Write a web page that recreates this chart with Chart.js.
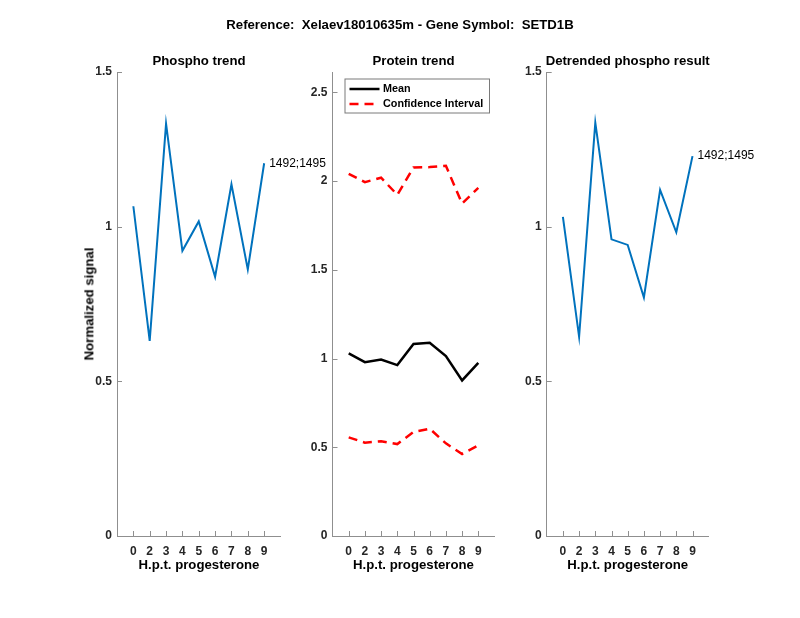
<!DOCTYPE html>
<html><head><meta charset="utf-8">
<script src="https://cdn.jsdelivr.net/npm/chart.js@4.4.0/dist/chart.umd.min.js"></script>
<style>
body{margin:0;background:#fff;}
#wrap{position:relative;width:800px;height:618px;overflow:hidden;font-family:"Liberation Sans",Arial,sans-serif;background:#fff;}
canvas{position:absolute;left:0;top:0;}
.t{position:absolute;white-space:pre;font-weight:bold;color:#000;transform:translate(-50%,-50%);line-height:1;font-size:13.2px;}
.r{transform:translate(-50%,-50%) rotate(-90deg);}
</style></head><body>
<div id="wrap">
<canvas id="c1" width="800" height="618"></canvas>
<canvas id="c2" width="800" height="618"></canvas>
<canvas id="c3" width="800" height="618"></canvas>
<div class="t" style="left:400px;top:25px;">Reference:  Xelaev18010635m - Gene Symbol:  SETD1B</div>
<div class="t" style="left:199px;top:60.5px;">Phospho trend</div>
<div class="t" style="left:413.5px;top:60.5px;">Protein trend</div>
<div class="t" style="left:627.7px;top:60.5px;">Detrended phospho result</div>
<div class="t" style="left:199px;top:565px;">H.p.t. progesterone</div>
<div class="t" style="left:413.5px;top:565px;">H.p.t. progesterone</div>
<div class="t" style="left:627.7px;top:565px;">H.p.t. progesterone</div>
<div class="t r" style="left:88.5px;top:304px;">Normalized signal</div>
</div>
<script>
// ---- data ----
const hptLabels = ['0','2','3','4','5','6','7','8','9'];
const phosphoTrend = [1.066,0.631,1.333,0.922,1.017,0.838,1.137,0.862,1.205];
const proteinMean = [1.029,0.980,0.995,0.963,1.082,1.089,1.014,0.877,0.976];
const proteinCIUpper = [2.041,1.994,2.019,1.923,2.077,2.079,2.086,1.874,1.962];
const proteinCILower = [0.556,0.526,0.534,0.518,0.586,0.605,0.522,0.462,0.511];
const detrendedPhospho = [1.032,0.644,1.336,0.959,0.941,0.771,1.119,0.982,1.228];
const phosphoTicks = [0,0.5,1,1.5];
const proteinTicks = [0,0.5,1,1.5,2,2.5];
const siteLabel = '1492;1495';

Chart.defaults.font.family = '"Liberation Sans", Arial, sans-serif';
Chart.defaults.animation = false;

const AXIS = '#8f8f8f', TXT = '#262626';
const YW = 40, XH = 30;
const toXY = arr => arr.map((v,i)=>({x:i+1,y:v}));

const inwardTicks = {
  id:'inwardTicks',
  afterDraw(chart){
    const ctx=chart.ctx, xs=chart.scales.x, ys=chart.scales.y, len=5;
    const a=chart.chartArea;
    ctx.save(); ctx.strokeStyle=AXIS; ctx.lineWidth=1; ctx.beginPath();
    xs.ticks.forEach(t=>{const p=Math.round(xs.getPixelForValue(t.value))+0.5; ctx.moveTo(p,a.bottom); ctx.lineTo(p,a.bottom-len);});
    ys.ticks.forEach(t=>{ if(t.value===ys.min) return; const p=Math.round(ys.getPixelForValue(t.value))+0.5; ctx.moveTo(a.left,p); ctx.lineTo(a.left+len,p);});
    ctx.stroke(); ctx.restore();
  }
};
const pointLabel = {
  id:'pointLabel',
  afterDatasetsDraw(chart, args, opts){
    if(!opts || !opts.text) return;
    const meta=chart.getDatasetMeta(0); const el=meta.data[meta.data.length-1];
    const ctx=chart.ctx; ctx.save(); ctx.fillStyle='#000'; ctx.font='12px "Liberation Sans", Arial, sans-serif';
    ctx.textBaseline='middle'; ctx.textAlign='left'; ctx.fillText(opts.text, el.x+5, el.y); ctx.restore();
  }
};
const boxLegend = {
  id:'boxLegend',
  afterDraw(chart, args, opts){
    if(!opts || !opts.box) return;
    const b=opts.box, ctx=chart.ctx;
    ctx.save(); ctx.fillStyle='#fff'; ctx.fillRect(b.x,b.y,b.w,b.h);
    ctx.strokeStyle='#7a7a7a'; ctx.lineWidth=1; ctx.strokeRect(b.x+0.5,b.y+0.5,b.w,b.h);
    const items=chart.data.datasets.filter(d=>d.inLegend);
    ctx.font='bold 10.8px "Liberation Sans", Arial, sans-serif'; ctx.textBaseline='middle'; ctx.fillStyle='#000';
    items.forEach((d,i)=>{
      const yy=b.y+b.rowTop+i*b.rowH;
      ctx.beginPath(); ctx.setLineDash(d.borderDash||[]); ctx.strokeStyle=d.borderColor; ctx.lineWidth=d.borderWidth;
      ctx.moveTo(b.x+b.lineX0,yy); ctx.lineTo(b.x+b.lineX1,yy); ctx.stroke();
      ctx.setLineDash([]); ctx.fillText(d.label,b.x+b.textX,yy);
    });
    ctx.restore();
  }
};

function makeChart(id, area, datasets, yMax, yTicks, extra){
  return new Chart(document.getElementById(id), {
    type:'line',
    data:{datasets},
    plugins:[inwardTicks, pointLabel, boxLegend],
    options:{
      responsive:false, events:[],
      layout:{padding:{left:area.l-YW, right:800-area.r, top:area.t, bottom:618-area.b-XH}},
      elements:{point:{radius:0}, line:{tension:0}},
      plugins:{legend:{display:false}, tooltip:{enabled:false}, title:{display:false},
        pointLabel:extra.pointLabel||{}, boxLegend:extra.boxLegend||{}},
      scales:{
        x:{type:'linear', min:0, max:10,
          afterBuildTicks:s=>{s.ticks=hptLabels.map((_,i)=>({value:i+1}));},
          afterFit:s=>{s.height=XH;},
          grid:{display:true, drawOnChartArea:false, drawTicks:false},
          border:{display:true,color:AXIS,width:1},
          ticks:{autoSkip:false, maxRotation:0, minRotation:0, padding:8, color:TXT, font:{size:12, weight:'bold'},
            callback:v=>hptLabels[v-1]}},
        y:{type:'linear', min:0, max:yMax,
          afterBuildTicks:s=>{s.ticks=yTicks.map(v=>({value:v}));},
          afterFit:s=>{s.width=YW;},
          grid:{display:true, drawOnChartArea:false, drawTicks:false},
          border:{display:true,color:AXIS,width:1},
          ticks:{padding:5, color:TXT, font:{size:12, weight:'bold'}, callback:v=>String(v)}}
      }
    }
  });
}

const BLUE='#0072BD';
makeChart('c1',{l:117,r:280.5,t:72,b:536},
  [{label:'Phospho', data:toXY(phosphoTrend), borderColor:BLUE, borderWidth:2, fill:false}],
  1.5, phosphoTicks, {pointLabel:{text:siteLabel}});

makeChart('c2',{l:332.5,r:494.5,t:72,b:536},
  [{label:'Mean', inLegend:true, data:toXY(proteinMean), borderColor:'#000', borderWidth:2.5, fill:false},
   {label:'Confidence Interval', inLegend:true, data:toXY(proteinCIUpper), borderColor:'#ff0000', borderWidth:2.5, borderDash:[9,6], fill:false},
   {label:'Confidence Interval', data:toXY(proteinCILower), borderColor:'#ff0000', borderWidth:2.5, borderDash:[9,6], fill:false}],
  2.615, proteinTicks,
  {boxLegend:{box:{x:344.5,y:78.5,w:144.5,h:34,rowTop:10.5,rowH:15,lineX0:5,lineX1:35,textX:38.5}}});

makeChart('c3',{l:546.7,r:708.7,t:72,b:536},
  [{label:'Detrended', data:toXY(detrendedPhospho), borderColor:BLUE, borderWidth:2, fill:false}],
  1.5, phosphoTicks, {pointLabel:{text:siteLabel}});
</script>
</body></html>
